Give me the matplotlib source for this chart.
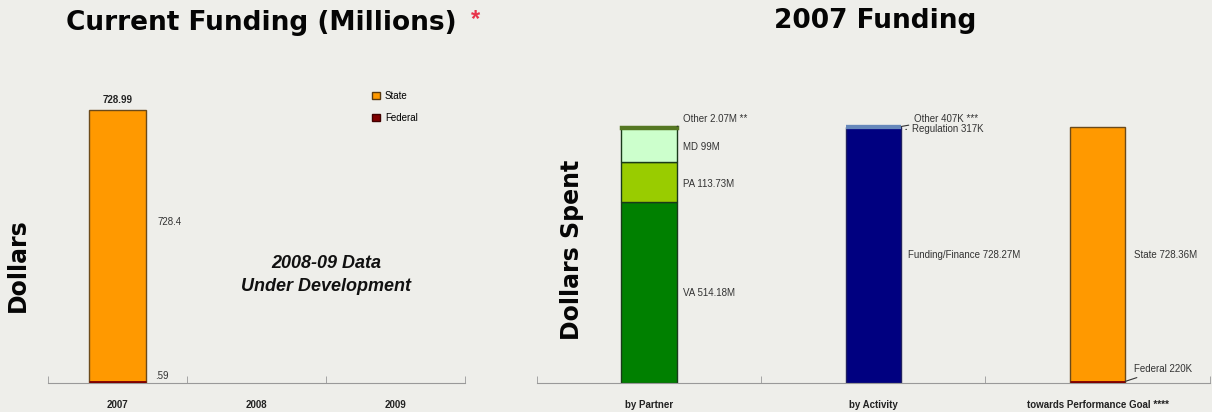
import matplotlib.pyplot as plt
from matplotlib.patches import Patch

plt.rcParams['font.family'] = ['Liberation Sans', 'DejaVu Sans']

# current funding (millions)
years = ['2007', '2008', '2009']
state_funding = [728.4]
federal_funding = [0.59]
total_funding = 728.99

# 2007 funding breakdowns (millions)
groups = ['by Partner', 'by Activity', 'towards Performance Goal ****']
partner_names = ['VA', 'PA', 'MD', 'Other']
partner_vals = [514.18, 113.73, 99.0, 2.07]
activity_names = ['Funding/Finance', 'Regulation', 'Other']
activity_vals = [728.27, 0.317, 0.407]
goal_names = ['Federal', 'State']
goal_vals = [0.22, 728.36]

bg = '#eeeeea'
orange = '#ff9900'
maroon = '#800000'
heavy = dict(family='DejaVu Sans', fontweight='bold', color='#050505')

fig = plt.figure(figsize=(12.12, 4.12), dpi=100, facecolor=bg)


def base_axes(rect, labels):
    ax = fig.add_axes(rect, facecolor=bg)
    for s in ['top', 'left', 'right']:
        ax.spines[s].set_visible(False)
    ax.spines['bottom'].set_color('#999999')
    ax.set_xlim(-0.5, 2.5)
    ax.set_ylim(0, 800)
    ax.set_yticks([])
    ax.set_xticks(range(3))
    ax.set_xticklabels(labels, fontsize=7, fontweight='bold', color='#222222')
    ax.tick_params(axis='x', which='major', length=0, pad=12)
    ax.set_xticks([-0.5, 0.5, 1.5, 2.5], minor=True)
    ax.tick_params(axis='x', which='minor', direction='in', length=5, color='#999999')
    return ax


# ---- left: current funding ----
ax1 = base_axes([0.0396, 0.0704, 0.344, 0.728], years)
w1 = 0.41
ax1.bar(0, federal_funding[0], w1, color=maroon, edgecolor=maroon, linewidth=3.5, zorder=3)
ax1.bar(0, state_funding[0], w1, bottom=federal_funding[0], color=orange,
        edgecolor='#6b4a1a', linewidth=1, zorder=2)
ax1.text(0, total_funding + 12, f'{total_funding:.2f}', ha='center', va='bottom',
         fontsize=7, fontweight='bold', color='#222222')
ax1.text(0.29, 430, f'{state_funding[0]}', fontsize=7, color='#333333', va='center')
ax1.text(0.27, 18, f'{federal_funding[0]}'.lstrip('0'), fontsize=7, color='#333333', va='center')
ax1.text(1.5, 288, '2008-09 Data\nUnder Development', ha='center', va='center',
         fontsize=13, fontweight='bold', style='italic', color='#111111', linespacing=1.5)
leg = fig.legend(handles=[Patch(facecolor=orange, edgecolor='#5a3a10', label='State'),
                          Patch(facecolor=maroon, edgecolor='#400000', label='Federal')],
                 loc='upper left', bbox_to_anchor=(0.3, 0.8), frameon=False,
                 fontsize=7, handlelength=0.8, handleheight=0.8, labelspacing=1.2,
                 handletextpad=0.5)

fig.text(0.015, 0.357, 'Dollars', rotation=90, ha='center', va='center', fontsize=17, **heavy)
fig.text(0.216, 0.945, 'Current Funding (Millions)', ha='center', va='center',
         fontsize=19, **heavy)
fig.text(0.392, 0.952, '*', ha='center', va='center', fontsize=17,
         fontweight='bold', color='#e8334a')

# ---- right: 2007 funding ----
ax2 = base_axes([0.443, 0.0704, 0.555, 0.682], groups)
w2 = 0.246
edge = '#1a3a1a'

partner_colors = ['#008000', '#99cc00', '#ccffcc', '#d8d040']
bottom = 0
for name, v, c in zip(partner_names, partner_vals, partner_colors):
    small = v < 5
    ax2.bar(0, v, w2, bottom=bottom, color=c,
            edgecolor='#557722' if small else edge, linewidth=2.5 if small else 1,
            zorder=3 if small else 2)
    bottom += v

activity_colors = ['#000080', '#6688bb', '#6688bb']
bottom = 0
for name, v, c in zip(activity_names, activity_vals, activity_colors):
    small = v < 5
    ax2.bar(1, v, w2, bottom=bottom, color=c,
            edgecolor=c if small else '#202060', linewidth=3 if small else 1,
            zorder=3 if small else 2)
    bottom += v

goal_colors = [maroon, orange]
bottom = 0
for name, v, c in zip(goal_names, goal_vals, goal_colors):
    small = v < 5
    ax2.bar(2, v, w2, bottom=bottom, color=c,
            edgecolor=c if small else '#6b4a1a', linewidth=3.5 if small else 1,
            zorder=3 if small else 2)
    bottom += v

lab = dict(fontsize=7, color='#333333', va='center')
hw = w2 / 2
# partner labels
cum = 0
mids = []
for v in partner_vals:
    mids.append(cum + v / 2)
    cum += v
ax2.text(hw + 0.03, mids[0], f'VA {partner_vals[0]}M', **lab)
ax2.text(hw + 0.03, mids[1] - 5, f'PA {partner_vals[1]}M', **lab)
ax2.text(hw + 0.03, mids[2] - 5, f'MD {partner_vals[2]:.0f}M', **lab)
ax2.annotate(f'Other {partner_vals[3]}M **', xy=(hw - 0.01, cum), xytext=(hw + 0.03, cum + 24),
             arrowprops=dict(arrowstyle='-', color='#333333', lw=0.8), **lab)

# activity labels
ax2.text(1 + hw + 0.03, activity_vals[0] / 2, f'Funding/Finance {activity_vals[0]}M', **lab)
act_total = sum(activity_vals)
ax2.annotate(f'Other {activity_vals[2] * 1000:.0f}K ***', xy=(1 + hw - 0.01, act_total),
             xytext=(1 + hw + 0.06, act_total + 24),
             arrowprops=dict(arrowstyle='-', color='#333333', lw=0.8), **lab)
ax2.annotate(f'Regulation {activity_vals[1] * 1000:.0f}K', xy=(1 + hw + 0.01, act_total - 7),
             xytext=(1 + hw + 0.05, act_total - 7),
             arrowprops=dict(arrowstyle='-', color='#333333', lw=0.8), **lab)

# goal labels
ax2.text(2 + hw + 0.04, goal_vals[0] + goal_vals[1] / 2, f'State {goal_vals[1]}M', **lab)
ax2.annotate(f'Federal {goal_vals[0] * 1000:.0f}K', xy=(2 + hw - 0.01, goal_vals[0] + 2),
             xytext=(2 + hw + 0.04, 40),
             arrowprops=dict(arrowstyle='-', color='#333333', lw=0.8), **lab)

fig.text(0.472, 0.393, 'Dollars Spent', rotation=90, ha='center', va='center',
         fontsize=17, **heavy)
fig.text(0.722, 0.95, '2007 Funding', ha='center', va='center', fontsize=19, **heavy)

fig.savefig('out.png', dpi=100, facecolor=bg)
